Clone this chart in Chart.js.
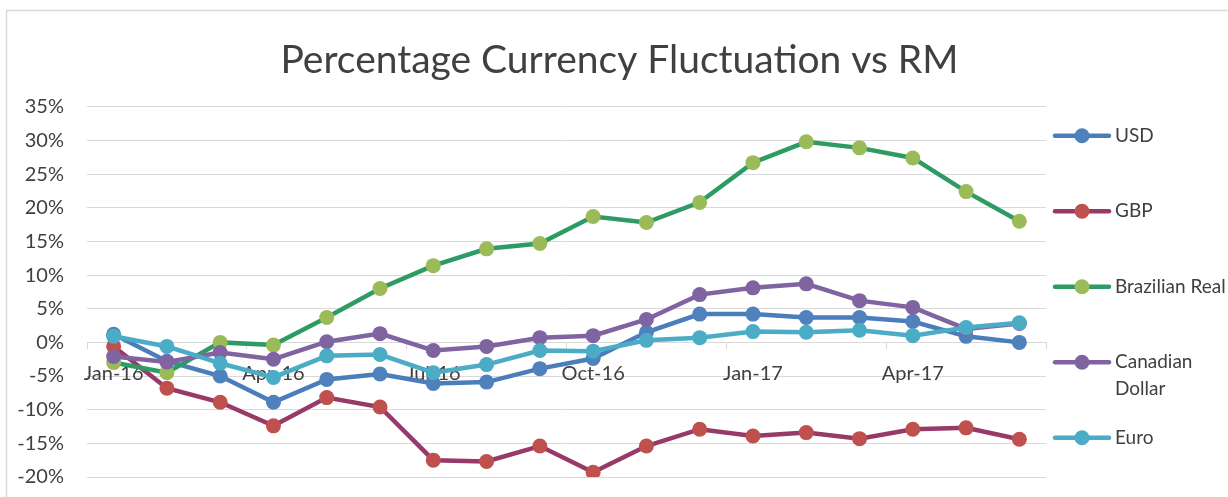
<!DOCTYPE html>
<html>
<head>
<meta charset="utf-8">
<script src="https://cdn.jsdelivr.net/npm/chart.js@4"></script>
<style>
  html, body { margin: 0; padding: 0; background: #fff; }
  #wrap { width: 1228px; height: 497px; }
</style>
</head>
<body>
<div id="wrap"><canvas id="fxChart" width="1228" height="497"></canvas></div>
<script>
document.addEventListener("DOMContentLoaded", function () {

// months Jan-16 .. Jun-17
const months = ["Jan-16", "Feb-16", "Mar-16", "Apr-16", "May-16", "Jun-16", "Jul-16", "Aug-16", "Sep-16",
  "Oct-16", "Nov-16", "Dec-16", "Jan-17", "Feb-17", "Mar-17", "Apr-17", "May-17", "Jun-17"];

// % change vs RM
const usd = [1.2, -2.8, -5.0, -8.9, -5.5, -4.7, -6.1, -5.9, -3.9, -2.4, 1.5, 4.2, 4.2, 3.7, 3.7, 3.1, 0.9, 0.0];
const gbp = [-0.6, -6.8, -8.9, -12.4, -8.2, -9.6, -17.5, -17.7, -15.4, -19.3, -15.4, -12.9, -13.9, -13.4, -14.3, -12.9, -12.7, -14.4];
const brl = [-3.0, -4.5, 0.0, -0.4, 3.7, 8.0, 11.4, 13.9, 14.7, 18.7, 17.8, 20.8, 26.7, 29.8, 28.9, 27.4, 22.4, 18.0];
const cad = [-2.1, -2.9, -1.5, -2.5, 0.1, 1.3, -1.2, -0.6, 0.7, 1.0, 3.4, 7.1, 8.1, 8.7, 6.2, 5.2, 2.0, 2.8];
const eur = [0.9, -0.6, -3.1, -5.2, -2.0, -1.8, -4.5, -3.3, -1.2, -1.3, 0.3, 0.7, 1.6, 1.5, 1.8, 1.0, 2.2, 2.9];

const seriesNames = ["USD", "GBP", "Brazilian Real", "Canadian Dollar", "Euro"];
const yTicks = { min: -20, max: 35, step: 5 };

const FONT = "Lato, 'Open Sans', sans-serif";
const TEXT = "#404040";
const GRID = "#d9d9d9";

function series(label, data, line, dot, i) {
  return {
    label: label,
    data: data,
    borderColor: line,
    backgroundColor: dot,
    borderWidth: 4.5,
    pointRadius: 7.5,
    pointBorderWidth: 0,
    pointBackgroundColor: dot,
    pointBorderColor: dot,
    pointHoverRadius: 7.5,
    tension: 0,
    order: 4 - i // later series on top, like excel
  };
}

// white bg + thin frame (only left/top edges fall inside the picture)
const frame = {
  id: "frame",
  beforeDraw(chart) {
    const c = chart.ctx;
    c.save();
    c.fillStyle = "#fff";
    c.fillRect(0, 0, chart.width, chart.height);
    c.strokeStyle = GRID;
    c.lineWidth = 1.5;
    c.strokeRect(6.5, 10.5, chart.width + 20, chart.height + 20);
    c.restore();
  }
};

// right hand legend, spread over the plot height like excel
const sideLegend = {
  id: "sideLegend",
  afterDraw(chart) {
    const c = chart.ctx;
    const area = chart.chartArea;
    const x0 = area.right + 9;
    const textX = x0 + 60;
    c.save();
    c.font = "19px " + FONT;
    c.textBaseline = "middle";
    const maxW = chart.width - textX - 2;
    chart.data.datasets.forEach(function (ds, i) {
      const y = area.top + 29 + i * 75.5;
      c.strokeStyle = ds.borderColor;
      c.lineWidth = 4.5;
      c.lineCap = "round";
      c.beginPath();
      c.moveTo(x0, y);
      c.lineTo(x0 + 54, y);
      c.stroke();
      c.fillStyle = ds.pointBackgroundColor;
      c.beginPath();
      c.arc(x0 + 27, y, 7.5, 0, Math.PI * 2);
      c.fill();
      // crude word wrap
      c.fillStyle = TEXT;
      const words = ds.label.split(" ");
      let lines = [], cur = "";
      words.forEach(function (w) {
        const t = cur ? cur + " " + w : w;
        if (cur && c.measureText(t).width > maxW) { lines.push(cur); cur = w; } else { cur = t; }
      });
      lines.push(cur);
      lines.forEach(function (ln, k) { c.fillText(ln, textX, y + k * 27); });
    });
    c.restore();
  }
};

const ctx = document.getElementById("fxChart").getContext("2d");

new Chart(ctx, {
  type: "line",
  data: {
    labels: months,
    datasets: [
      series(seriesNames[0], usd, "#4a7ebb", "#4f81bd", 0),
      series(seriesNames[1], gbp, "#973a69", "#c0504d", 1),
      series(seriesNames[2], brl, "#2e9b64", "#9bbb59", 2),
      series(seriesNames[3], cad, "#8064a2", "#8064a2", 3),
      series(seriesNames[4], eur, "#4bacc6", "#4bacc6", 4)
    ]
  },
  options: {
    responsive: false,
    animation: false,
    layout: { padding: { left: 11, right: 0, top: 0, bottom: 20 } },
    plugins: {
      legend: { display: false },
      tooltip: { enabled: false },
      title: {
        display: true,
        text: "Percentage Currency Fluctuation vs RM",
        color: TEXT,
        font: { family: FONT, size: 39, weight: "normal" },
        padding: { top: 37, bottom: 23 }
      }
    },
    scales: {
      x: {
        position: { y: 0 },
        offset: true,
        afterFit: function (s) { s.height = 0; }, // axis sits on 0%
        grid: {
          display: true,
          offset: true,
          drawOnChartArea: false,
          drawTicks: true,
          tickLength: 6,
          tickWidth: 1,
          tickColor: function (c) {
            if (c.index === undefined || c.index % 3 === 0) return GRID;
            return "rgba(0,0,0,0)";
          }
        },
        border: { display: true, color: GRID, width: 1 },
        ticks: {
          autoSkip: false,
          maxRotation: 0,
          padding: 13,
          color: TEXT,
          font: { family: FONT, size: 20 },
          callback: function (v, i) { return i % 3 === 0 ? months[i] : ""; }
        }
      },
      y: {
        min: yTicks.min,
        max: yTicks.max,
        afterFit: function (s) {
          s.width = 76;
          // tick padding otherwise gets added to the top/bottom overflow
          s.paddingTop = 12;
          s.paddingBottom = 12;
        },
        grid: { color: GRID, lineWidth: 1, drawTicks: false },
        border: { display: false },
        ticks: {
          stepSize: yTicks.step,
          padding: 23,
          color: TEXT,
          font: { family: FONT, size: 20 },
          callback: function (v) { return v + "%"; }
        }
      },
      // empty axis that only reserves room for the legend on the right
      legendRoom: {
        type: "linear",
        position: "right",
        afterFit: function (s) { s.width = 182; },
        grid: { display: false },
        border: { display: false },
        ticks: { display: false }
      }
    }
  },
  plugins: [frame, sideLegend]
});

});
</script>
</body>
</html>
